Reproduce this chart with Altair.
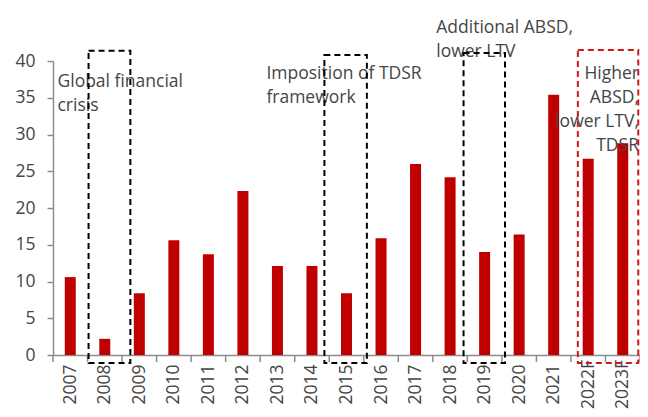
import altair as alt
import pandas as pd

# ---- data ----
categories = ["2007", "2008", "2009", "2010", "2011", "2012", "2013", "2014", "2015",
              "2016", "2017", "2018", "2019", "2020", "2021", "2022F", "2023F"]
values = [10.6, 2.2, 8.4, 15.6, 13.7, 22.3, 12.1, 12.1, 8.4,
          15.9, 26.0, 24.2, 14.0, 16.4, 35.4, 26.7, 28.8]
y_ticks = [0, 5, 10, 15, 20, 25, 30, 35, 40]

# policy boxes (category-index span, value span)
box_x0 = [0.53, 7.36, 11.39, 14.7]
box_x1 = [1.74, 8.59, 12.59, 16.45]
box_top = [41.4, 40.8, 41.1, 41.5]
box_bottom = [-1.1, -1.1, -1.1, -1.1]
box_color = ["#000000", "#000000", "#000000", "#D01818"]

# annotations
ann_text = ["Global financial\ncrisis", "Imposition of TDSR\nframework",
            "Additional ABSD,\nlower LTV", "Higher\nABSD,\nlower LTV,\nTDSR"]
ann_x = [-0.37, 5.68, 10.6, 16.47]
ann_y = [36.5, 37.6, 43.8, 37.6]
ann_align = ["left", "left", "left", "right"]

FONT = "Open Sans"
TXT = "#454545"
AX = "#8c8c8c"
FS = 17.5
W, H = 587, 294

bars_df = pd.DataFrame({"idx": list(range(len(categories))), "cat": categories, "val": values})
bound_df = pd.DataFrame({"b": [i - 0.5 for i in range(len(categories) + 1)]})
box_df = pd.DataFrame({"x0": box_x0, "x1": box_x1, "y0": box_bottom, "y1": box_top, "c": box_color})
ann_df = pd.DataFrame({"t": ann_text, "x": ann_x, "y": ann_y, "a": ann_align})

label_arr = "[" + ",".join("'%s'" % c for c in categories) + "]"

xscale = alt.Scale(domain=[-0.5, len(categories) - 0.5], nice=False, zero=False, padding=0)
yscale = alt.Scale(domain=[0, 40], nice=False, padding=0)

x_axis = alt.Axis(values=list(range(len(categories))),
                  labelExpr=label_arr + "[datum.value]",
                  ticks=False, grid=False, labelAngle=-90,
                  labelAlign="center", labelBaseline="middle",
                  labelPadding=29, labelFlush=False, labelOverlap=False,
                  labelFont=FONT, labelFontSize=FS, labelFontWeight="normal",
                  labelColor=TXT, domainColor=AX, domainWidth=1.5)
y_axis = alt.Axis(values=y_ticks, grid=False, tickSize=6, tickColor=AX,
                  tickWidth=1.5, domainColor=AX, domainWidth=1.5,
                  labelOverlap=False,
                  labelPadding=12, labelFont=FONT, labelFontSize=FS,
                  labelFontWeight="normal", labelColor=TXT)

bars = alt.Chart(bars_df).mark_bar(size=11, color="#C00000").encode(
    x=alt.X("idx:Q", scale=xscale, title=None, axis=x_axis),
    y=alt.Y("val:Q", scale=yscale, title=None, axis=y_axis),
)

ticks = alt.Chart(bound_df).mark_rule(color=AX, strokeWidth=1.5).encode(
    x=alt.X("b:Q", scale=xscale, title=None, axis=x_axis),
    y=alt.YDatum(0, scale=yscale, title=None, axis=y_axis),
    y2=alt.value(H + 7),
)

texts_left = alt.Chart(ann_df[ann_df.a == "left"]).mark_text(
    font=FONT, fontSize=FS, color=TXT, align="left",
    baseline="alphabetic", lineBreak="\n", lineHeight=24,
).encode(x=alt.X("x:Q", scale=xscale, title=None, axis=x_axis),
         y=alt.Y("y:Q", scale=yscale, title=None, axis=y_axis), text="t:N")
texts_right = alt.Chart(ann_df[ann_df.a == "right"]).mark_text(
    font=FONT, fontSize=FS, color=TXT, align="right",
    baseline="alphabetic", lineBreak="\n", lineHeight=24,
).encode(x=alt.X("x:Q", scale=xscale, title=None, axis=x_axis),
         y=alt.Y("y:Q", scale=yscale, title=None, axis=y_axis), text="t:N")

boxes = alt.Chart(box_df).mark_rect(filled=False, strokeDash=[6, 4], strokeWidth=2).encode(
    x=alt.X("x0:Q", scale=xscale, title=None, axis=x_axis),
    x2="x1:Q",
    y=alt.Y("y0:Q", scale=yscale, title=None, axis=y_axis),
    y2="y1:Q",
    stroke=alt.Color("c:N", scale=None),
)

chart = alt.layer(bars, ticks, texts_left, texts_right, boxes).properties(
    width=W, height=H,
    background="white",
    autosize=alt.AutoSizeParams(type="none"),
    padding={"left": 45, "top": 53, "right": 0, "bottom": 54},
).configure_view(stroke=None).configure_axis(labelOverlap=False)

chart.save("out.html", embed_options={"renderer": "svg", "actions": False})
